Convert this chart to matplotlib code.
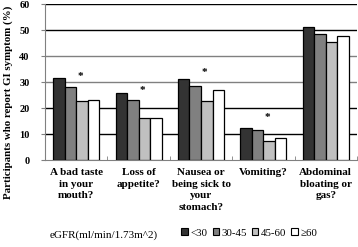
import numpy as np
import matplotlib.pyplot as plt
from matplotlib.patches import Patch

categories = ['A bad taste\nin your\nmouth?', 'Loss of\nappetite?',
              'Nausea or\nbeing sick to\nyour\nstomach?', 'Vomiting?',
              'Abdominal\nbloating or\ngas?']
groups = ['<30', '30-45', '45-60', '≥60']
values = {
    '<30':   [31.5, 25.8, 31.0, 12.5, 51.0],
    '30-45': [28.0, 23.0, 28.5, 11.4, 48.3],
    '45-60': [22.6, 16.2, 22.7, 7.4, 45.5],
    '≥60':   [23.2, 16.3, 27.0, 8.6, 47.8],
}
star_heights = [32.0, 26.6, 33.5, 16.4]
yticks = [0, 10, 20, 30, 40, 50, 60]

colors = ['#333333', '#808080', '#c0c0c0', '#ffffff']
serif = ['Liberation Serif', 'DejaVu Serif']


def main():
    fig = plt.figure(figsize=(3.58, 2.47), dpi=100)
    ax = fig.add_axes([45 / 358, 1 - 160 / 247, 312 / 358, 156 / 247])

    x = np.arange(len(categories))
    w = 0.185
    for i, g in enumerate(groups):
        ax.bar(x + (i - 1.5) * w, values[g], width=w, color=colors[i],
               edgecolor='black', linewidth=0.9, zorder=3)

    grid_colors = ['black', 'black', 'black', '#808080', '#808080', 'black', 'black']
    for yv, c in zip(yticks, grid_colors):
        if yv > 0:
            ax.axhline(yv, color=c, linewidth=1.0, zorder=1)

    for i, h in enumerate(star_heights):
        ax.text(x[i] + 0.06, h, '*', ha='center', va='center', fontsize=8,
                fontweight='bold', family=serif)

    ax.set_xlim(-0.5, len(categories) - 0.5)
    ax.set_ylim(0, 60)
    ax.set_yticks(yticks)
    ax.set_yticklabels([str(v) for v in yticks], fontsize=7.5, fontweight='bold',
                       family=serif)
    ax.set_xticks(x)
    ax.set_xticklabels(categories, fontsize=8, fontweight='bold', family=serif,
                       linespacing=1.35, va='top')
    ax.tick_params(axis='x', length=0, pad=6)
    ax.set_xticks(np.arange(len(categories) + 1) - 0.5, minor=True)
    ax.tick_params(axis='x', which='minor', length=3, direction='in',
                   color='#808080')
    ax.tick_params(axis='y', length=3, color='#808080', pad=8)

    for s in ['top', 'right']:
        ax.spines[s].set_visible(False)
    ax.spines['left'].set_color('#808080')
    ax.spines['bottom'].set_color('#808080')

    fig.text(0.022, 1 - 102 / 247, 'Participants who report GI symptom (%)',
             rotation=90, ha='center', va='center', fontsize=7.8,
             fontweight='bold', family=serif)

    fig.text(50 / 358, 1 - 235 / 247, 'eGFR(ml/min/1.73m^2)', ha='left',
             va='center', fontsize=8.0, family=serif)
    handles = [Patch(facecolor=colors[i], edgecolor='black', linewidth=0.8)
               for i in range(len(groups))]
    fig.legend(handles, groups, loc='center left',
               bbox_to_anchor=(176 / 358, 1 - 233 / 247), ncol=4, frameon=False,
               handlelength=0.6, handleheight=0.6,
               handletextpad=0.2, columnspacing=0.5, borderpad=0,
               prop={'family': serif, 'size': 7.8})

    plt.savefig('out.png', dpi=100)
    plt.close()


if __name__ == '__main__':
    main()
